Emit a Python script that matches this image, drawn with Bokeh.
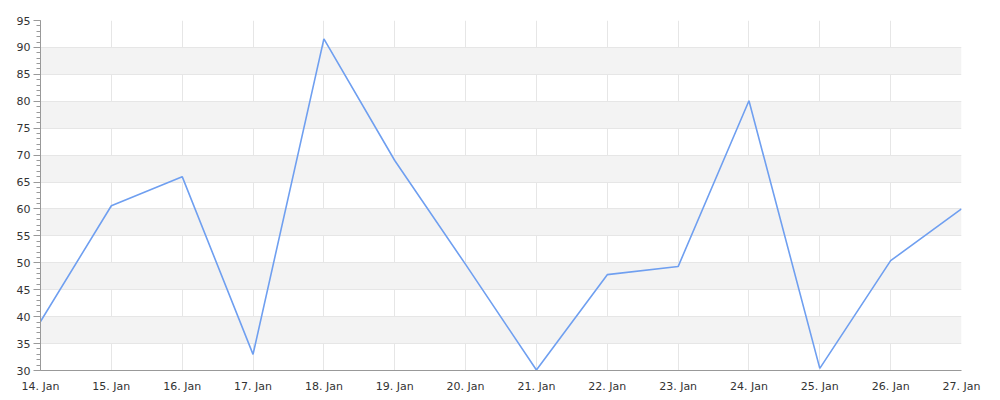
from datetime import datetime
from bokeh.plotting import figure
from bokeh.models import FixedTicker, SingleIntervalTicker, DatetimeTickFormatter, Range1d, ColumnDataSource
from bokeh.embed import file_html
from bokeh.resources import INLINE

days = list(range(14, 28))
values = [39.1, 60.6, 66.0, 33.0, 91.6, 69.0, 49.7, 30.1, 47.8, 49.3, 80.1, 30.4, 50.4, 60.0]

dates = [datetime(2024, 1, d) for d in days]
src = ColumnDataSource(dict(x=dates, y=values))

p = figure(width=992, height=396, output_backend="svg", toolbar_location=None,
           x_axis_type="datetime",
           x_range=Range1d(dates[0], dates[-1]), y_range=Range1d(30, 95),
           min_border_left=40, min_border_right=31, min_border_top=20, min_border_bottom=26)
p.outline_line_color = None
p.background_fill_color = "white"

p.line("x", "y", source=src, line_color="#6f9ff0", line_width=1.6)

tick_ms = [d.timestamp() * 1000 for d in dates]
p.xaxis.ticker = FixedTicker(ticks=tick_ms)
p.xaxis.formatter = DatetimeTickFormatter(days="%d. %b", months="%d. %b", hours="%d. %b")
p.xaxis.major_tick_line_color = None
p.xaxis.minor_tick_line_color = None
p.xaxis.axis_line_color = "#999999"
p.xaxis.major_label_standoff = 3

p.yaxis.ticker = SingleIntervalTicker(interval=5, num_minor_ticks=5)
p.yaxis.axis_line_color = "#999999"
p.yaxis.major_tick_line_color = "#999999"
p.yaxis.minor_tick_line_color = "#999999"
p.yaxis.major_tick_out = 7
p.yaxis.major_tick_in = 0
p.yaxis.minor_tick_out = 4
p.yaxis.minor_tick_in = 0
p.yaxis.major_label_standoff = 3

for ax in (p.xaxis, p.yaxis):
    ax.major_label_text_font = "DejaVu Sans"
    ax.major_label_text_font_size = "11px"
    ax.major_label_text_color = "#333333"

p.xgrid.grid_line_color = "#e6e6e6"
p.ygrid.grid_line_color = "#e6e6e6"
p.ygrid.band_fill_color = "#f3f3f3"
p.ygrid.band_fill_alpha = 1.0
p.xgrid.ticker = p.xaxis.ticker
p.ygrid.ticker = p.yaxis.ticker

open("out.html", "w").write(file_html(p, INLINE))
